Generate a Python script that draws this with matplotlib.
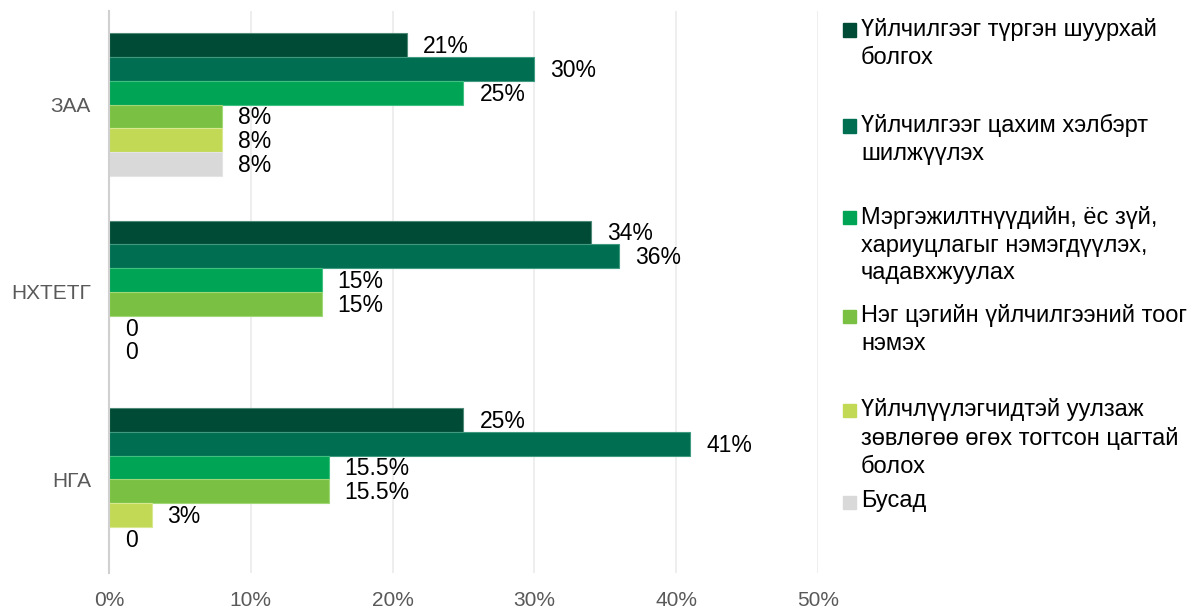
import numpy as np
import matplotlib
matplotlib.use('Agg')
import matplotlib.pyplot as plt
from matplotlib import font_manager
from matplotlib.patches import Rectangle

# font: Arial-like, narrow variant for numbers if it exists
names = set(f.name for f in font_manager.fontManager.ttflist)
base_font = 'Liberation Sans' if 'Liberation Sans' in names else 'DejaVu Sans'
narrow_font = 'Liberation Sans Narrow' if 'Liberation Sans Narrow' in names else base_font
plt.rcParams['font.family'] = [base_font, 'DejaVu Sans']

# du lieu
categories = ['ЗАА', 'НХТЕТГ', 'НГА']
series_names = [
    'Үйлчилгээг түргэн шуурхай\nболгох',
    'Үйлчилгээг цахим хэлбэрт\nшилжүүлэх',
    'Мэргэжилтнүүдийн, ёс зүй,\nхариуцлагыг нэмэгдүүлэх,\nчадавхжуулах',
    'Нэг цэгийн үйлчилгээний тоог\nнэмэх',
    'Үйлчлүүлэгчидтэй уулзаж\nзөвлөгөө өгөх тогтсон цагтай\nболох',
    'Бусад',
]
colors = ['#004B35', '#006E51', '#00A455', '#7AC143', '#C2D955', '#D9D9D9']
edge_colors = ['#4F8A78', '#3F9A80', '#40C080', '#A0D878', '#D6E890', '#E4E4E4']
values = [
    [21, 34, 25],
    [30, 36, 41],
    [25, 15, 15.5],
    [8, 15, 15.5],
    [8, 0, 3],
    [8, 0, 0],
]
labels = [
    ['21%', '34%', '25%'],
    ['30%', '36%', '41%'],
    ['25%', '15%', '15.5%'],
    ['8%', '15%', '15.5%'],
    ['8%', '0', '3%'],
    ['8%', '0', '0'],
]
xticks = [0, 10, 20, 30, 40, 50]
xtick_labels = ['0%', '10%', '20%', '30%', '40%', '50%']

fig = plt.figure(figsize=(11.95, 6.08), dpi=100)
ax = fig.add_axes([0.0912, 0.0576, 0.5933, 0.9244])

y = np.arange(len(categories))
h = 0.127
for i in range(len(series_names)):
    pos = y + (i - 2.5) * h
    ax.barh(pos, values[i], height=h, color=colors[i], edgecolor=edge_colors[i], linewidth=0.8)
    for j in range(len(categories)):
        ax.annotate(labels[i][j], (values[i][j], pos[j]), xytext=(11.5, -1),
                    textcoords='offset points', va='center', ha='left',
                    fontsize=16.5, family=narrow_font, color='#000000')

ax.set_xlim(0, 50)
ax.set_ylim(2.5, -0.5)
ax.set_yticks(y)
ax.set_yticklabels(categories)
ax.set_xticks(xticks)
ax.set_xticklabels(xtick_labels)
ax.tick_params(axis='both', length=0, colors='#595959', labelsize=15)
ax.tick_params(axis='y', pad=13)
ax.tick_params(axis='x', pad=13)
for t in ax.get_xticklabels():
    t.set_family(narrow_font)
ax.grid(axis='x', color='#EBEBEB', linewidth=1.2)
ax.set_axisbelow(True)
for s in ['top', 'right', 'bottom']:
    ax.spines[s].set_visible(False)
ax.spines['left'].set_color('#D0D0D0')
ax.spines['left'].set_linewidth(1.5)

# legend ve tay (giong excel)
slot_top = [30, 126, 218, 316, 410, 502]
for i in range(len(series_names)):
    yc = 1 - slot_top[i] / 608
    fig.patches.append(Rectangle((843 / 1195, yc - 6.5 / 608), 13 / 1195, 13 / 608,
                                 transform=fig.transFigure, color=colors[i]))
    fig.text(861 / 1195, yc + 12 / 608, series_names[i], ha='left', va='top',
             fontsize=17, color='#000000', linespacing=1.33)

fig.savefig('out.png', dpi=100)
